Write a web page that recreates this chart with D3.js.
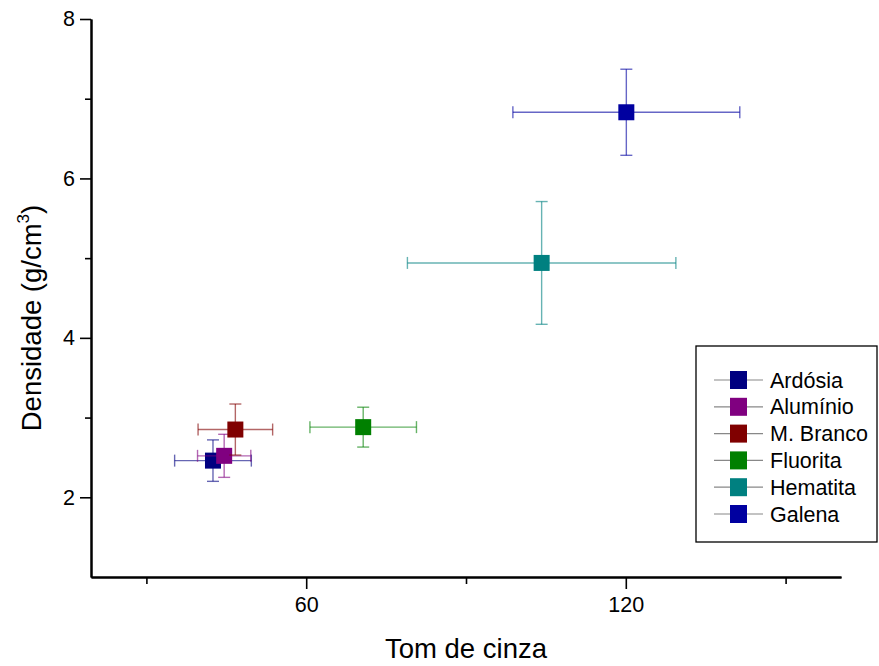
<!DOCTYPE html>
<html><head><meta charset="utf-8">
<script src="https://cdn.jsdelivr.net/npm/d3@7"></script>
<style>body{margin:0;background:#fff}svg{display:block}text{font-family:"Liberation Sans",Arial,sans-serif}</style>
</head><body>
<script>
const names = ["Ardósia","Alumínio","M. Branco","Fluorita","Hematita","Galena"];
const colors = ["#000080","#800080","#800000","#008000","#008080","#0000A0"];
const xVals = [42.5, 44.6, 46.7, 70.7, 104.2, 120.1];
const yVals = [2.46, 2.52, 2.85, 2.88, 4.94, 6.83];
const xErr = [7.2, 5.0, 7.0, 10.0, 25.2, 21.3];
const yErr = [0.26, 0.27, 0.32, 0.25, 0.77, 0.54];
const xTicks = [60, 120];
const yTicks = [2, 4, 6, 8];
const xMinor = [30, 90, 150];
const yMinor = [3, 5, 7];

const W = 879, H = 666;
const svg = d3.select("body").append("svg").attr("width", W).attr("height", H);
const x = d3.scaleLinear().domain([19.6, 160.4]).range([91, 841]);
const y = d3.scaleLinear().domain([1, 8]).range([577, 19]);

svg.append("g").attr("transform", "translate(0,577)")
  .call(d3.axisBottom(x).tickValues(xTicks).tickSize(12).tickSizeOuter(0).tickPadding(8).tickFormat(d3.format("d")));
svg.append("g").attr("transform", "translate(0,577)")
  .call(d3.axisBottom(x).tickValues(xMinor).tickSize(7).tickSizeOuter(0).tickFormat(""));
svg.append("g").attr("transform", "translate(91,0)")
  .call(d3.axisLeft(y).tickValues(yTicks).tickSize(11).tickSizeOuter(0).tickPadding(5).tickFormat(d3.format("d")));
svg.append("g").attr("transform", "translate(91,0)")
  .call(d3.axisLeft(y).tickValues(yMinor).tickSize(6).tickSizeOuter(0).tickFormat(""));
svg.selectAll(".domain").attr("stroke", "#000").attr("stroke-width", 2);
svg.selectAll(".tick line").attr("stroke", "#000").attr("stroke-width", 1.6);
svg.selectAll(".tick text").attr("font-size", 21.5).attr("fill", "#000").attr("font-family", "Liberation Sans, Arial, sans-serif");

svg.append("text").attr("x", 466).attr("y", 658).attr("text-anchor", "middle")
  .attr("font-size", 27.5).text("Tom de cinza");
const yt = svg.append("text").attr("transform", "translate(41,318) rotate(-90)")
  .attr("text-anchor", "middle").attr("font-size", 27.5);
yt.append("tspan").text("Densidade (g/cm");
yt.append("tspan").attr("font-size", 17).attr("dy", -12).text("3");
yt.append("tspan").attr("dy", 12).text(")");

const cap = 6, ms = 16;
const g = svg.append("g");
names.forEach((n, i) => {
  const cx = x(xVals[i]), cy = y(yVals[i]);
  const eg = g.append("g").attr("stroke", colors[i]).attr("stroke-opacity", 0.6).attr("stroke-width", 1.4);
  const x0 = x(xVals[i] - xErr[i]), x1 = x(xVals[i] + xErr[i]);
  const y0 = y(yVals[i] - yErr[i]), y1 = y(yVals[i] + yErr[i]);
  eg.append("line").attr("x1", x0).attr("x2", x1).attr("y1", cy).attr("y2", cy);
  eg.append("line").attr("x1", x0).attr("x2", x0).attr("y1", cy - cap).attr("y2", cy + cap);
  eg.append("line").attr("x1", x1).attr("x2", x1).attr("y1", cy - cap).attr("y2", cy + cap);
  eg.append("line").attr("x1", cx).attr("x2", cx).attr("y1", y0).attr("y2", y1);
  eg.append("line").attr("x1", cx - cap).attr("x2", cx + cap).attr("y1", y0).attr("y2", y0);
  eg.append("line").attr("x1", cx - cap).attr("x2", cx + cap).attr("y1", y1).attr("y2", y1);
  g.append("rect").attr("x", cx - ms / 2).attr("y", cy - ms / 2).attr("width", ms).attr("height", ms)
    .attr("fill", colors[i]);
});

const lg = svg.append("g");
lg.append("rect").attr("x", 696).attr("y", 346).attr("width", 181).attr("height", 196)
  .attr("fill", "#fff").attr("stroke", "#000").attr("stroke-width", 1.3);
names.forEach((n, i) => {
  const ly = 380 + i * 26.8;
  lg.append("line").attr("x1", 714).attr("x2", 763).attr("y1", ly).attr("y2", ly)
    .attr("stroke", "#888").attr("stroke-width", 1.2);
  lg.append("rect").attr("x", 730).attr("y", ly - 9).attr("width", 17).attr("height", 18).attr("fill", colors[i]);
  lg.append("text").attr("x", 770).attr("y", ly + 7.5).attr("font-size", 21.5).text(n);
});
</script>
</body></html>
